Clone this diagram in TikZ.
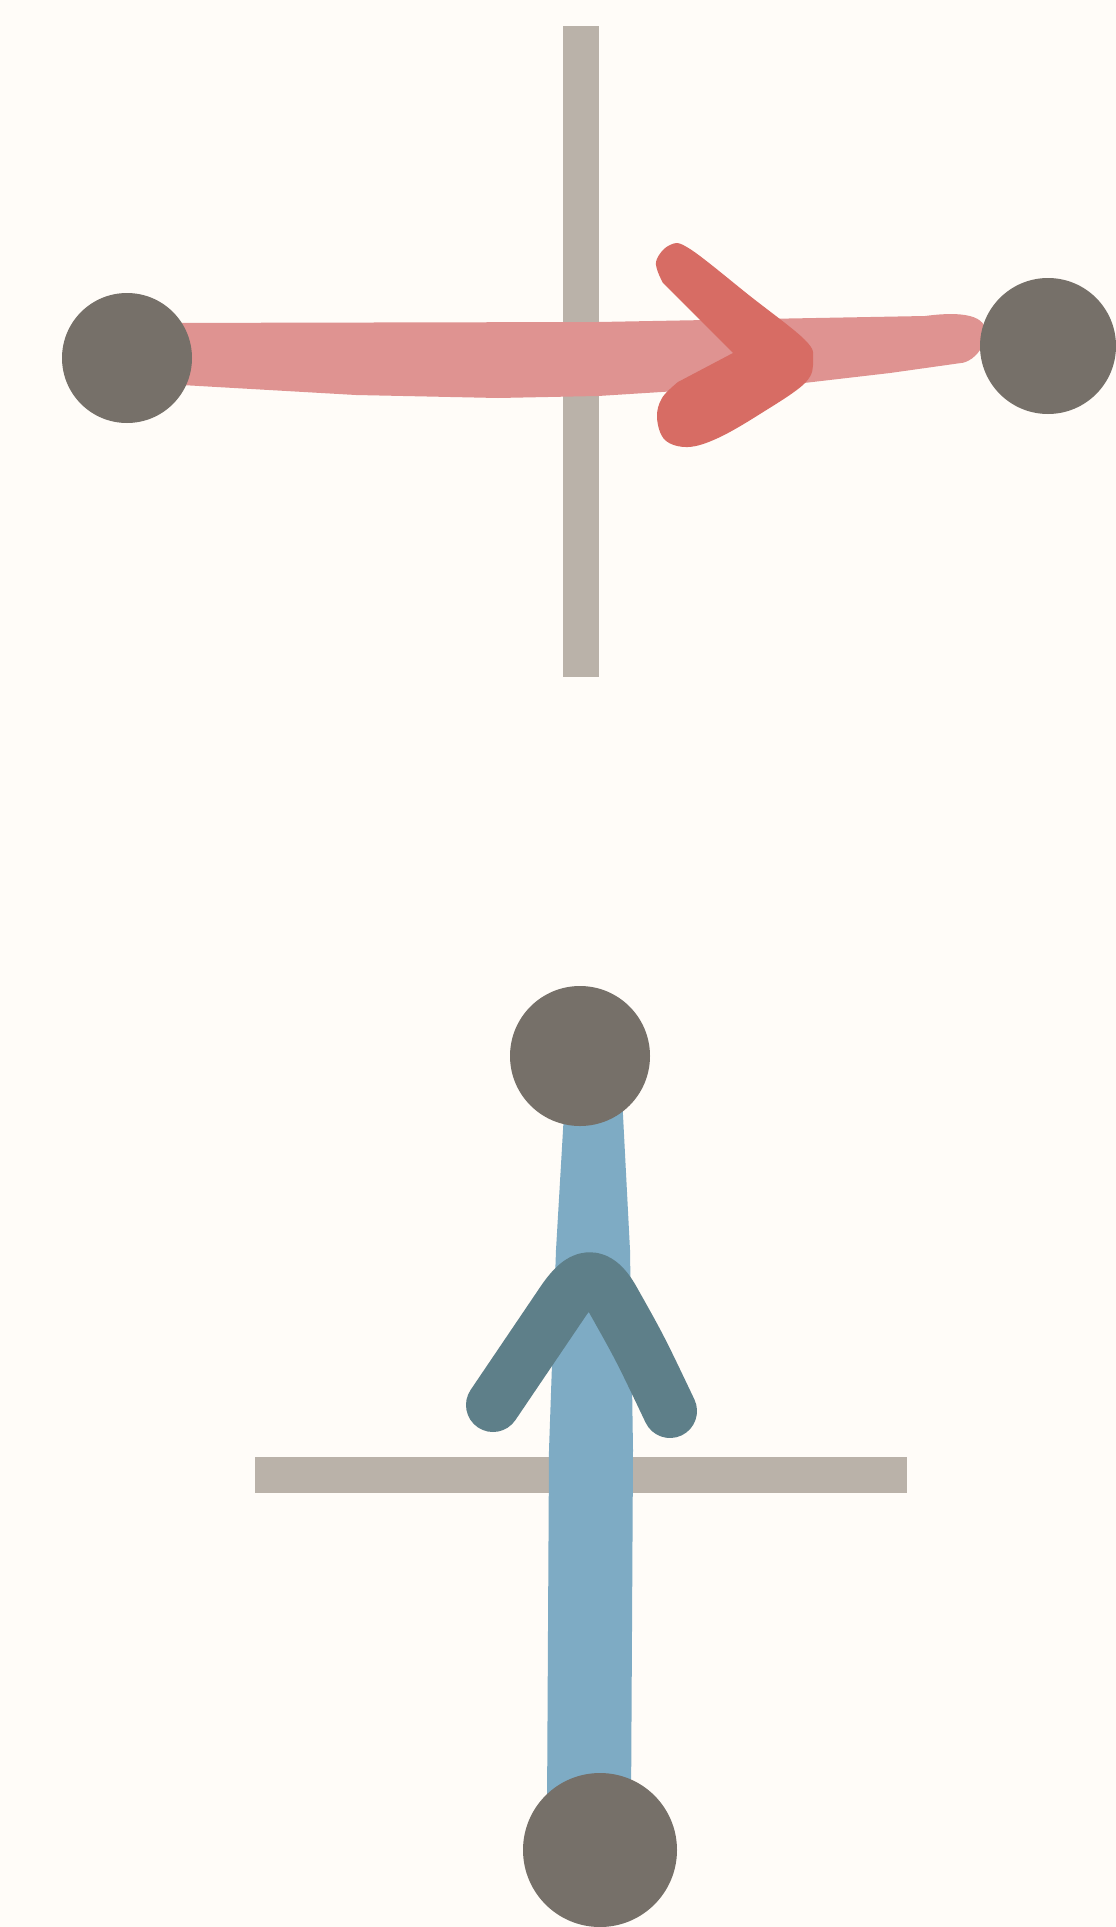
\documentclass[tikz,border=0pt]{standalone}
\usetikzlibrary{calc}
\definecolor{bg}{HTML}{FFFCF8}
\definecolor{barcol}{HTML}{BAB2A9}
\definecolor{dotcol}{HTML}{767069}
\definecolor{redline}{HTML}{DF9391}
\definecolor{redhead}{HTML}{D76C64}
\definecolor{blueline}{HTML}{7EABC4}
\definecolor{bluehead}{HTML}{5E7F89}
\pgfdeclarelayer{back}
\pgfsetlayers{back,main}
\begin{document}
\begin{tikzpicture}[x=1pt,y=-1pt,
  dotnode/.style={circle,fill=dotcol,inner sep=0pt,minimum size=#1},
  barbox/.style={fill=barcol},
  headstroke/.style={line width=54pt,line cap=round,line join=round}]
% circles (nodes)
\node[dotnode=130pt] (L) at (127,358) {};
\node[dotnode=136pt] (R) at (1048,346) {};
\node[dotnode=140pt] (T) at (580,1056) {};
\node[dotnode=154pt] (B) at (600,1850) {};
\begin{pgfonlayer}{back}
\fill[bg] (0,0) rectangle (1116,1927);
\fill[barbox] (563,26) rectangle (599,677);
\fill[barbox] (255,1457) rectangle (907,1493);
% red connector L -> R
\fill[redline] ($(L)+(20,-35)$) -- (598,322) -- (925,316)
  .. controls (970,310) and (990,318) .. (985,338)
  .. controls (980,358) and (965,363) .. (961,363)
  -- (890,373) -- (804,383) -- (598,396) -- (498,398) -- (356,395)
  -- ($(L)+(20,25)$) -- cycle;
% blue connector T -> B
\fill[blueline] ($(T)+(-15,40)$) -- (556,1250) -- (549,1450)
  -- ($(B)+(-53,-40)$) -- ($(B)+(31,-40)$) -- (633,1450) -- (630,1250)
  -- ($(T)+(42,40)$) -- cycle;
\end{pgfonlayer}
\useasboundingbox (0,0) rectangle (1116,1927);
% red arrowhead
\fill[redhead] (733,353) -- plot[smooth, tension=0.6] coordinates {(663,283) (656,262) (670,245) (690,249) (750,296) (805,340) (813,360) (805,383) (760,414) (718,438) (688,447) (665,440) (657,418) (662,398) (678,382)} -- cycle;
% blue arrowhead
\draw[bluehead,headstroke] (493,1405) -- (562,1303) .. controls (580,1276) and (595,1268) .. (613,1300)
  .. controls (640,1348) .. (670,1411);
\end{tikzpicture}
\end{document}
